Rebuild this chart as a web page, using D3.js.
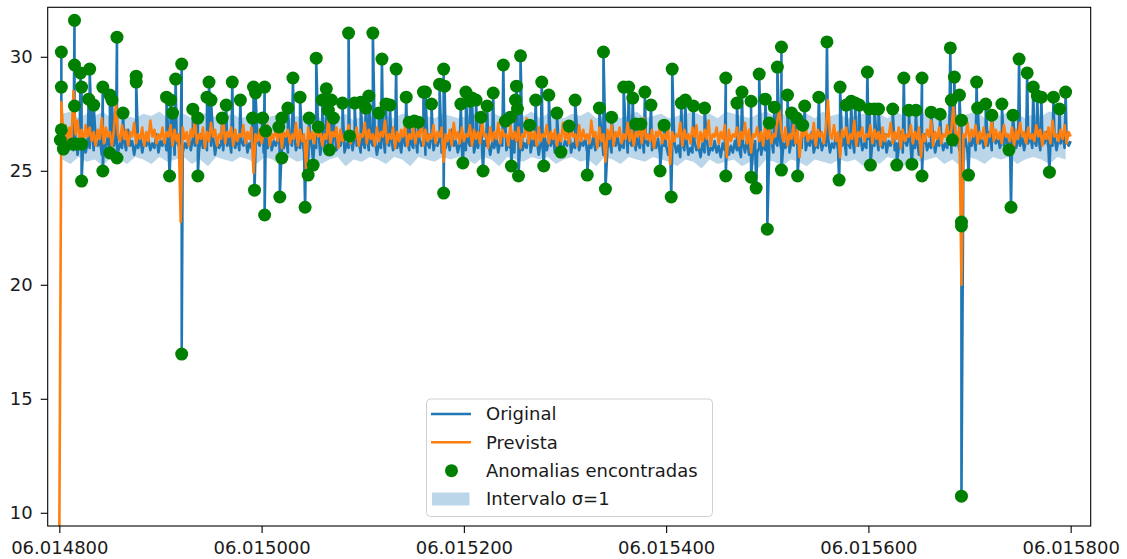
<!DOCTYPE html>
<html><head><meta charset="utf-8">
<script src="https://cdn.jsdelivr.net/npm/d3@7"></script>
<style>body{margin:0;background:#fff}svg{display:block}text{font-family:"DejaVu Sans",sans-serif}</style>
</head><body><svg id="c" width="1127" height="559"></svg>
<script>
// ---- data ----
const xStart = 14800, xStep = 2;
const original = [
26.3,26.0,26.4,25.8,26.3,26.1,26.6,25.9,26.2,25.7,26.4,26.1,26.5,25.8,26.2,26.0,26.7,25.9,26.3,26.1,26.4,25.7,26.2,26.0,26.5,25.9,26.3,26.1,26.6,25.8,26.2,26.0,26.4,25.9,26.8,26.1,26.3,25.7,26.2,26.0,26.5,25.8,26.3,26.1,26.4,25.9,26.2,26.0,26.6,25.8,
26.3,26.1,26.5,25.9,26.2,26.0,26.4,25.7,26.3,26.1,26.7,25.8,26.2,26.0,26.5,25.9,26.4,26.1,26.3,25.8,26.6,26.0,26.2,25.9,26.4,26.1,26.5,25.7,26.3,26.0,26.2,25.9,26.8,26.1,26.4,25.8,26.2,26.0,26.5,25.9,26.3,26.1,26.6,25.8,26.2,26.0,26.4,25.9,26.3,26.1,
26.5,25.8,26.2,26.0,26.6,25.9,26.3,26.1,26.4,25.7,26.2,26.0,26.5,25.8,26.3,26.1,26.7,25.9,26.2,26.0,26.4,25.8,26.3,26.1,26.5,25.9,26.2,26.0,26.6,25.7,26.3,26.1,26.4,25.8,26.2,26.0,26.8,25.9,26.3,26.1,26.5,25.8,26.2,26.0,26.4,25.9,26.6,26.1,26.3,25.8,
26.2,26.0,26.5,25.9,26.3,26.1,26.4,25.7,26.2,26.0,26.6,25.8,26.3,26.1,26.5,25.9,26.2,26.0,26.4,25.8,26.7,26.1,26.3,25.9,26.2,26.0,26.5,25.8,26.4,26.1,26.3,25.7,26.2,26.0,26.6,25.9,26.3,26.1,26.4,25.8,26.2,26.0,26.5,25.9,26.8,26.1,26.3,25.8,26.2,26.0,
26.4,25.9,26.3,26.1,26.5,25.8,26.2,26.0,26.6,25.9,26.3,26.1,26.4,25.7,26.2,26.0,26.5,25.8,26.3,26.1,26.7,25.9,26.2,26.0,26.4,25.8,26.3,26.1,26.5,25.9,26.2,26.0,26.6,25.8,26.3,26.1,26.4,25.7,26.2,26.0,26.5,25.9,26.3,26.1,26.6,25.8,26.2,26.0,26.4,25.9,
26.3,26.1,26.5,25.8,26.2,26.0,26.7,25.9,26.3,26.1,26.4,25.8,26.2,26.0,26.5,25.9,26.3,26.1,26.6,25.7,26.2,26.0,26.4,25.8,26.3,26.1,26.5,25.9,26.2,26.0,26.8,25.8,26.3,26.1,26.4,25.9,26.2,26.0,26.5,25.8,26.3,26.1,26.6,25.9,26.2,26.0,26.4,25.7,26.3,26.1,
26.1,25.7,26.2,25.9,26.3,25.8,26.1,25.6,26.2,25.9,26.4,25.7,26.0,25.8,26.3,25.9,26.1,25.6,26.2,25.8,26.5,25.7,26.0,25.9,26.3,25.8,26.1,25.6,26.2,25.9,26.4,25.7,26.1,25.8,26.3,25.9,26.0,25.6,26.2,25.8,26.4,25.7,26.1,25.9,26.3,25.8,26.0,25.7,26.2,25.9,
26.2,26.0,26.4,25.8,26.3,26.1,26.5,25.9,26.2,26.0,26.6,25.8,26.3,26.1,26.4,25.7,26.2,26.0,26.5,25.9,26.3,26.1,26.7,25.8,26.2,26.0,26.4,25.9,26.3,26.1,26.5,25.8,26.2,26.0,26.6,25.9,26.3,26.1,26.4,25.7,26.2,26.0,26.5,25.8,26.3,26.1,26.6,25.9,26.2,26.0,
26.4,25.8,26.3,26.1,26.5,25.9,26.2,26.0,26.6,25.8,26.3,26.1,26.4,25.9,26.2,26.0,26.7,25.8,26.3,26.1,26.5,25.9,26.2,26.0,26.4,25.7,26.3,26.1,26.6,25.9,26.2,26.0,26.5,25.8,26.3,26.1,26.4,25.9,26.2,26.0,26.8,25.8,26.3,26.1,26.5,25.9,26.2,26.0,26.4,25.8,
26.3,26.1,26.6,25.9,26.4,26.2,26.5,26.0,26.3,26.1,26.7,25.9,26.4,26.2,26.5,26.0,26.3,26.1,26.6,25.9,26.4,26.2,26.8,26.0,26.3,26.1,26.5,25.9,26.4,26.2,26.6,26.0,26.3,26.1,26.5,25.9,26.4,26.2,26.7,26.0,26.3,26.1,26.5,25.9,26.4,26.2,26.6,26.0,26.3,26.1,
26.3];
const predicted = [
9.0,28.0,26.5,27.0,26.3,26.9,26.4,28.5,26.6,27.2,26.3,26.8,26.2,27.0,26.5,26.9,26.3,26.7,26.1,26.8,26.4,27.3,26.2,26.9,26.5,26.7,26.1,26.8,28.0,26.6,26.3,27.0,26.4,26.8,26.1,26.7,26.5,27.1,26.2,26.6,26.4,26.9,26.1,26.7,26.3,27.2,26.5,26.8,26.2,26.6,
26.4,26.9,26.2,26.7,26.5,27.0,26.1,26.8,26.3,26.6,22.76,26.9,26.4,26.7,26.1,26.8,26.5,27.2,26.2,26.6,26.4,26.9,26.0,26.7,26.3,27.1,26.5,26.8,26.1,26.6,26.4,27.3,26.2,26.7,26.5,26.9,26.1,26.8,26.3,26.6,26.5,27.0,26.2,26.7,26.4,26.9,24.9,26.6,26.3,26.8,
26.2,26.7,26.5,27.0,26.1,26.6,26.4,26.9,26.3,27.2,26.0,26.7,26.5,26.8,26.2,26.6,26.4,27.1,26.1,26.8,26.3,26.6,25.1,26.9,26.4,26.7,26.2,27.0,26.5,26.8,26.1,26.6,26.4,27.3,26.2,26.7,26.5,26.9,26.0,26.8,26.3,26.6,26.5,27.0,26.2,26.7,26.4,26.9,26.1,26.6,
26.5,27.1,26.2,26.8,26.4,26.6,26.1,26.9,26.3,26.7,26.5,27.2,26.2,26.6,26.4,26.9,26.0,26.7,26.3,26.8,26.5,27.0,26.1,26.6,26.4,26.9,26.2,26.7,26.5,27.3,26.1,26.8,26.3,26.6,26.4,27.0,26.2,26.7,26.5,26.9,25.4,26.6,26.3,26.8,26.1,27.1,26.4,26.7,26.2,26.9,
26.3,26.6,26.5,27.0,26.1,26.8,26.4,26.7,26.2,27.2,26.5,26.6,26.0,26.9,26.3,26.7,26.4,27.1,26.2,26.8,26.5,26.6,26.1,27.0,26.4,26.7,26.3,26.9,26.0,26.6,26.5,27.3,26.2,26.8,26.4,26.7,26.1,26.9,26.3,26.6,26.5,27.0,26.2,26.7,26.4,26.8,26.1,26.6,26.3,27.1,
26.4,26.7,26.2,26.9,26.5,26.6,26.1,27.0,26.3,26.8,26.4,26.6,26.2,27.2,26.5,26.7,26.0,26.9,26.3,26.6,25.4,26.8,26.4,27.0,26.1,26.7,26.5,26.9,26.2,26.6,26.4,27.1,26.3,26.8,26.1,26.7,26.5,26.9,26.2,27.3,26.4,26.6,26.3,26.8,26.0,26.7,26.5,27.0,26.2,26.6,
26.4,26.9,25.3,26.7,26.3,26.6,26.5,27.1,26.1,26.8,26.4,26.6,26.2,26.9,26.5,27.0,26.0,26.7,26.3,26.8,26.4,27.2,26.1,26.6,26.5,26.9,26.2,26.7,26.4,27.0,25.6,26.8,26.3,26.6,26.5,26.9,26.1,26.7,26.4,27.1,26.2,26.8,25.8,26.6,26.5,26.9,26.3,26.7,26.1,27.0,
26.4,26.8,26.2,26.6,26.5,27.2,27.7,26.7,26.3,26.9,26.1,26.6,26.4,27.0,26.2,26.8,25.6,26.7,26.5,26.9,26.3,26.6,26.4,27.1,26.1,26.8,26.5,26.7,26.2,26.9,28.1,26.6,26.4,27.0,26.3,26.7,25.6,26.8,26.5,26.9,26.2,26.6,26.4,27.2,26.1,26.7,26.5,26.9,26.3,26.6,
26.5,27.0,26.2,26.8,26.4,26.7,26.1,26.9,26.3,26.6,26.5,27.1,26.2,26.7,26.4,26.9,26.0,26.8,26.3,26.6,26.5,27.0,26.2,26.7,26.4,26.9,25.6,26.6,26.3,26.8,26.5,27.2,26.1,26.7,26.4,26.9,26.2,26.6,26.5,27.0,26.3,26.8,27.8,26.7,26.4,26.9,20.0,26.6,26.5,27.1,
26.3,26.8,26.5,27.0,26.2,26.7,26.4,26.9,26.1,26.6,26.5,27.2,26.3,26.8,26.4,26.7,26.2,27.0,26.5,26.6,26.3,26.9,26.1,26.8,26.4,27.1,26.5,26.7,26.2,26.9,26.4,26.6,26.3,27.0,26.5,26.8,26.1,26.7,26.4,26.9,26.2,27.2,26.5,26.6,26.3,26.8,26.4,27.0,26.2,26.7,
26.5];
const bandStart = 14803, bandStep = 8;
const bandLower = [
25.5,25.3,25.6,25.4,25.5,25.2,25.6,25.5,25.3,25.6,25.5,25.3,25.6,25.4,25.5,25.6,25.3,25.5,25.2,25.6,25.5,25.4,25.6,25.5,25.3,
25.6,25.5,25.2,25.6,25.4,25.5,25.6,25.3,25.5,25.6,25.2,25.5,25.4,25.6,25.5,25.3,25.6,25.5,25.2,25.6,25.5,25.4,25.6,25.5,25.6,
25.5,25.3,25.6,25.5,25.2,25.6,25.5,25.4,25.6,25.5,25.6,25.3,25.5,25.6,25.4,25.5,25.2,25.6,25.5,25.3,25.6,25.5,25.4,25.6,25.5,
25.4,25.2,25.5,25.4,25.1,25.5,25.3,25.4,25.5,25.2,25.4,25.1,25.5,25.4,25.2,25.5,25.4,25.2,25.5,25.4,25.3,25.5,25.4,25.5,25.2,
25.5,25.3,25.6,25.5,25.2,25.6,25.4,25.5,25.6,25.3,25.5,25.2,25.6,25.5,25.3,25.6,25.5,25.6,25.3,25.5,25.6,25.5,25.3,25.6,25.5];
const bandUpper = [
27.5,27.6,27.3,27.5,27.4,27.6,27.3,27.5,27.4,27.3,27.5,27.4,27.6,27.3,27.4,27.5,27.3,27.4,27.6,27.3,27.4,27.5,27.3,27.4,27.5,
27.3,27.4,27.5,27.3,27.4,27.2,27.5,27.3,27.4,27.3,27.5,27.2,27.4,27.3,27.5,27.4,27.3,27.5,27.4,27.2,27.4,27.3,27.5,27.4,27.3,
27.4,27.5,27.3,27.6,27.4,27.3,27.5,27.4,27.6,27.3,27.5,27.4,27.3,27.5,27.4,27.6,27.3,27.4,27.5,27.3,27.4,27.6,27.3,27.4,27.5,
27.3,27.4,27.5,27.6,27.4,27.5,27.3,27.6,27.5,27.4,27.3,27.5,27.6,27.4,27.5,27.3,27.4,27.5,27.3,27.6,27.4,27.5,27.3,27.4,27.5,
27.4,27.5,27.3,27.6,27.4,27.5,27.6,27.4,27.5,27.3,27.6,27.4,27.5,27.6,27.3,27.5,27.4,27.6,27.5,27.3,27.5,27.4,27.6,27.5,27.4];
const anomalyX = [
14801,14802,14802,14802,14804,14813,14815,14815,14815,14817,14821,14822,14822,14822,14829,14830,14834,14843,14843,14850,
14850,14852,14857,14857,14863,14876,14876,14906,14909,14910,14912,14915,14921,14921,14932,14937,14937,14946,14948,14950,
14961,14965,14971,14979,14991,14992,14993,14994,15001,15003,15003,15004,15017,15018,15020,15020,15026,15031,15038,15043,
15046,15047,15051,15054,15056,15060,15064,15066,15067,15069,15071,15080,15086,15087,15092,15098,15103,15106,15110,15116,
15119,15123,15127,15133,15143,15146,15151,15155,15160,15162,15168,15176,15180,15180,15181,15197,15199,15202,15206,15208,
15212,15217,15219,15223,15229,15239,15241,15246,15247,15251,15252,15253,15254,15256,15265,15271,15277,15279,15284,15292,
15296,15304,15310,15322,15334,15338,15340,15346,15358,15363,15367,15370,15375,15379,15385,15394,15398,15405,15406,15415,
15419,15427,15438,15459,15459,15470,15475,15484,15484,15489,15492,15498,15500,15502,15507,15510,15514,15514,15520,15524,
15529,15530,15535,15537,15551,15559,15571,15572,15578,15583,15587,15591,15599,15601,15602,15606,15610,15624,15628,15635,
15640,15643,15647,15653,15653,15662,15671,15681,15682,15683,15685,15690,15692,15692,15692,15692,15699,15707,15708,15716,
15722,15732,15739,15741,15743,15749,15757,15763,15767,15771,15779,15783,15789,15795];
const anomalyY = [
26.35,30.21,28.67,26.80,25.95,26.17,31.60,29.64,27.84,26.17,29.29,28.67,26.17,24.55,28.14,29.46,27.88,28.67,24.99,28.32,
25.78,28.10,30.86,25.56,27.53,29.15,28.89,28.23,24.77,28.10,27.53,29.02,29.68,16.96,27.70,27.31,24.77,28.23,28.89,28.10,
27.31,27.88,28.89,28.10,27.31,28.67,24.15,28.41,27.31,28.67,23.06,26.74,26.92,23.85,25.56,27.31,27.75,29.07,28.23,23.40,
24.81,27.31,25.25,29.94,26.92,28.10,28.60,27.66,25.91,28.10,27.31,27.97,31.04,26.53,27.97,28.01,27.75,28.28,31.04,27.53,
29.90,27.93,27.88,29.46,28.23,27.13,27.18,27.13,28.45,28.45,27.93,28.80,29.46,24.02,28.71,27.93,25.34,28.45,28.05,28.19,
28.10,27.35,24.99,27.84,28.41,29.64,27.18,27.35,25.21,28.10,28.71,27.71,24.77,30.04,27.00,28.10,28.89,25.21,28.32,27.53,
25.82,26.96,28.10,24.81,27.75,30.21,24.20,27.35,28.67,28.67,28.19,27.05,27.05,28.45,27.88,24.99,27.00,23.85,29.46,27.97,
28.10,27.84,27.75,29.07,24.77,27.97,28.45,28.05,24.72,24.24,29.24,28.14,22.44,27.09,27.79,29.55,30.43,25.03,28.32,27.53,
27.31,24.77,27.00,27.84,28.23,30.65,24.59,28.67,27.88,28.05,27.97,27.88,29.33,27.71,25.25,27.71,27.71,27.71,25.25,29.07,
27.66,25.29,27.66,29.07,24.77,27.57,27.48,30.39,28.10,26.35,29.11,28.32,27.22,22.75,22.58,10.73,24.81,28.89,27.75,27.93,
27.44,27.93,25.91,23.40,27.44,29.90,29.29,28.67,28.28,28.23,24.94,28.23,27.71,28.45];
const xTickValues = [14800, 15000, 15200, 15400, 15600, 15800];
const xTickLabels = ["06.014800", "06.015000", "06.015200", "06.015400", "06.015600", "06.015800"];
const yTickValues = [10, 15, 20, 25, 30];
const legendLabels = ["Original", "Prevista", "Anomalias encontradas", "Intervalo σ=1"];

// ---- chart ----
const C = {blue:"#1f77b4", orange:"#ff7f0e", green:"#008000"};
const L = 47.7, R = 1090.7, T = 7.3, B = 526;
const svg = d3.select("#c");
const x = d3.scaleLinear().domain([14788.5, 15819.8]).range([L, R]);
const y = d3.scaleLinear().domain([9.42, 32.17]).range([B, T]);

svg.append("defs").append("clipPath").attr("id","clip")
  .append("rect").attr("x",L).attr("y",T).attr("width",R-L).attr("height",B-T);
const plot = svg.append("g").attr("clip-path","url(#clip)");

const bandData = bandLower.map((v,i)=>({x: bandStart + i*bandStep, lo: v, hi: bandUpper[i]}));
plot.append("path").datum(bandData)
  .attr("d", d3.area().x(d=>x(d.x)).y0(d=>y(d.lo)).y1(d=>y(d.hi)))
  .attr("fill", C.blue).attr("fill-opacity", 0.3);

const origPts = original.map((v,i)=>({x: xStart + i*xStep, y: v, k: 0}));
const anomPts = anomalyX.map((v,i)=>({x: v, y: anomalyY[i], k: 1, i}));
const merged = origPts.concat(anomPts).sort((a,b)=> a.x - b.x || a.k - b.k || (a.i||0) - (b.i||0));
const line = d3.line().x(d=>x(d.x)).y(d=>y(d.y));
plot.append("path").datum(merged).attr("d", line)
  .attr("fill","none").attr("stroke",C.blue).attr("stroke-width",2.6).attr("stroke-linejoin","round");

const predPts = predicted.map((v,i)=>({x: xStart + i*xStep, y: v}));
plot.append("path").datum(predPts).attr("d", line)
  .attr("fill","none").attr("stroke",C.orange).attr("stroke-width",2.6).attr("stroke-linejoin","round");

plot.selectAll("circle.an").data(anomPts).join("circle").attr("class","an")
  .attr("cx",d=>x(d.x)).attr("cy",d=>y(d.y)).attr("r",6.5).attr("fill",C.green);

const xa = svg.append("g").attr("transform",`translate(0,${B})`)
  .call(d3.axisBottom(x).tickValues(xTickValues).tickFormat((d,i)=>xTickLabels[i]).tickSize(7).tickPadding(8));
const ya = svg.append("g").attr("transform",`translate(${L},0)`)
  .call(d3.axisLeft(y).tickValues(yTickValues).tickFormat(d=>d).tickSize(7).tickPadding(8));
[xa, ya].forEach(a=>{
  a.select(".domain").remove();
  a.selectAll("line").attr("stroke","#000").attr("stroke-width",1.1);
  a.selectAll("text").attr("font-size","18px").attr("fill","#1a1a1a").attr("font-family","DejaVu Sans");
});
svg.append("rect").attr("x",L).attr("y",T).attr("width",R-L).attr("height",B-T)
  .attr("fill","none").attr("stroke","#000").attr("stroke-width",1.1);

const lg = svg.append("g");
lg.append("rect").attr("x",426.5).attr("y",399).attr("width",286).attr("height",117.5).attr("rx",4)
  .attr("fill","#fff").attr("fill-opacity",0.8).attr("stroke","#d0d0d0").attr("stroke-width",1);
const rowY = [414, 442.3, 470.7, 499];
lg.append("line").attr("x1",431).attr("x2",471).attr("y1",rowY[0]).attr("y2",rowY[0]).attr("stroke",C.blue).attr("stroke-width",2.6);
lg.append("line").attr("x1",431).attr("x2",471).attr("y1",rowY[1]).attr("y2",rowY[1]).attr("stroke",C.orange).attr("stroke-width",2.6);
lg.append("circle").attr("cx",451.5).attr("cy",rowY[2]).attr("r",6.5).attr("fill",C.green);
lg.append("rect").attr("x",432).attr("y",rowY[3]-6.5).attr("width",37.5).attr("height",13).attr("fill",C.blue).attr("fill-opacity",0.3);
lg.selectAll("text").data(legendLabels).join("text")
  .attr("x",486).attr("y",(d,i)=>rowY[i]).attr("dy","0.36em")
  .attr("font-size","18px").attr("fill","#1a1a1a").text(d=>d);
</script></body></html>
